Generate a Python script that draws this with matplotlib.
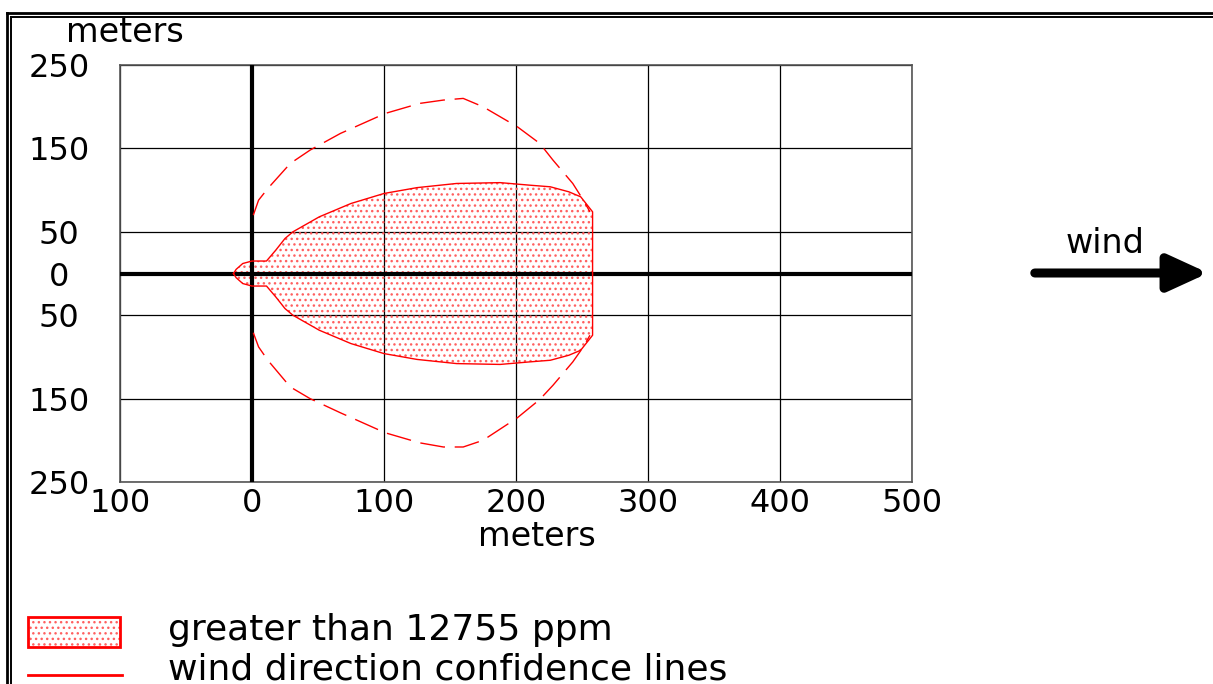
import matplotlib.pyplot as plt
from matplotlib.lines import Line2D
from matplotlib.patches import Rectangle

plt.rcParams['font.family'] = ['DejaVu Sans']
plt.rcParams['lines.scale_dashes'] = False
plt.rcParams['hatch.linewidth'] = 1.0

# upper half of the threat zone outline (mirrored below the centre line)
zone_x = [-14, -12, -7, 0, 11, 18, 25, 31, 51, 75, 100, 125, 155, 188, 210, 226, 240, 249, 258]
zone_y = [0, 5, 12, 15, 15, 28, 42, 50, 68, 84, 96, 103, 108, 109, 106, 104, 98, 92, 74]

# wind direction confidence lines, upper and lower
conf_x = [1, 5, 12, 29, 44, 67, 101, 127, 145, 160, 175, 201, 218, 228, 243, 251, 256]
conf_up = [70, 88, 102, 132, 148, 168, 192, 204, 208, 210, 200, 176, 156, 136, 108, 88, 74]
conf_lo = [-71, -88, -104, -136, -150, -167, -191, -203, -208, -208, -200, -173, -151, -134, -106, -88, -74]

x_ticks = [-100, 0, 100, 200, 300, 400, 500]
y_ticks = [250, 150, 50, 0, -50, -150, -250]

fig = plt.figure(figsize=(12.13, 6.84), dpi=100)
ax = fig.add_axes([0.0989, 0.2953, 0.6530, 0.6096])
ax.set_xlim(-100, 500)
ax.set_ylim(-250, 250)

ax.set_xticks(x_ticks)
ax.set_yticks(y_ticks)
ax.set_xticklabels([str(abs(v)) for v in x_ticks])
ax.set_yticklabels([str(abs(v)) for v in y_ticks])
ax.tick_params(length=0, labelsize=23)
ax.tick_params(axis='y', pad=44)
ax.tick_params(axis='x', pad=4)
for lab in ax.get_yticklabels():
    lab.set_horizontalalignment('center')
ax.grid(True, color='black', linewidth=0.9)
ax.set_axisbelow(True)
for sp in ax.spines.values():
    sp.set_color('#555555')
    sp.set_linewidth(1.2)

ax.axhline(0, color='black', linewidth=3, zorder=3)
ax.axvline(0, color='black', linewidth=3, zorder=3)

# threat zone
px = zone_x + zone_x[::-1]
py = zone_y + [-v for v in zone_y[::-1]]
ax.fill(px, py, facecolor='none', edgecolor='#ff6060', hatch='...', linewidth=0, zorder=2)
ax.plot(px + [px[0]], py + [py[0]], color='red', linewidth=1.0, zorder=4)

# confidence lines
ax.plot(conf_x, conf_up, color='red', linewidth=1.0, dashes=(18, 7), zorder=4)
ax.plot(conf_x, conf_lo, color='red', linewidth=1.0, dashes=(18, 7), zorder=4)

# axis labels
fig.text(125 / 1213, 1 - 32 / 684, 'meters', fontsize=24, ha='center', va='center')
fig.text(537 / 1213, 1 - 537 / 684, 'meters', fontsize=24, ha='center', va='center')

# wind arrow
fig.text(1105 / 1213, 1 - 244 / 684, 'wind', fontsize=24, ha='center', va='center')
ax.annotate('', xy=(1211 / 1213, 1 - 273 / 684), xytext=(1032 / 1213, 1 - 273 / 684),
            xycoords='figure fraction', textcoords='figure fraction',
            arrowprops=dict(arrowstyle='-|>,head_length=2.4,head_width=1.1',
                            color='black', linewidth=6.5, capstyle='round',
                            joinstyle='round'))

# legend
fig.add_artist(Rectangle((28 / 1213, 1 - 647 / 684), 92 / 1213, 30 / 684,
                         transform=fig.transFigure, facecolor='none',
                         edgecolor='#ff6060', hatch='...', linewidth=0))
fig.add_artist(Rectangle((28 / 1213, 1 - 647 / 684), 92 / 1213, 30 / 684,
                         transform=fig.transFigure, facecolor='none',
                         edgecolor='red', linewidth=2))
fig.text(168 / 1213, 1 - 630 / 684, 'greater than 12755 ppm', fontsize=26, va='center')
fig.add_artist(Line2D([28 / 1213, 122 / 1213], [1 - 675 / 684, 1 - 675 / 684],
                      transform=fig.transFigure, color='red', linewidth=2))
fig.text(168 / 1213, 1 - 669 / 684, 'wind direction confidence lines', fontsize=26, va='center')

# double frame at top and left
for yy, lw in [(13, 2.0), (17, 1.4)]:
    fig.add_artist(Line2D([(7 if yy == 13 else 11) / 1213, 1], [1 - yy / 684, 1 - yy / 684],
                          transform=fig.transFigure, color='black', linewidth=lw))
for xx, lw in [(7, 2.0), (11, 1.4)]:
    fig.add_artist(Line2D([xx / 1213, xx / 1213], [0, 1 - (13 if xx == 7 else 17) / 684],
                          transform=fig.transFigure, color='black', linewidth=lw))

fig.savefig('out.png', dpi=100)
